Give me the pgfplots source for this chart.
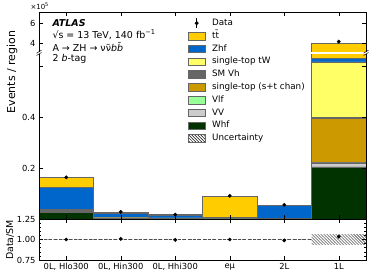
\documentclass[border=0pt]{standalone}
\usepackage{fontspec}
\setmainfont{DejaVu Sans}
\usepackage{pgfplots}
\pgfplotsset{compat=1.18}
\usepackage{pgfplotstable}
\usetikzlibrary{patterns}
\definecolor{ctt}{HTML}{FFCC00}
\definecolor{czhf}{HTML}{0066CC}
\definecolor{ctw}{HTML}{FFFF66}
\definecolor{csmvh}{HTML}{666666}
\definecolor{cst}{HTML}{CC9900}
\definecolor{cvlf}{HTML}{99FF99}
\definecolor{cvv}{HTML}{CCCCCC}
\definecolor{cwhf}{HTML}{003300}

% cumulative stack heights (x10^5 events), bottom-to-top order: whf, vv, vlf, st, smvh, tw, zhf, tt
\pgfplotstableread{
x tt zhf tw smvh st vlf vv whf
0 0.162 0.124 0.038 0.037 0.035 0.031 0.030 0.025
1 0.027 0.021 0.006 0.0055 0.005 0.0045 0.004 0.003
2 0.017 0.0157 0.0042 0.004 0.0036 0.0033 0.003 0.002
3 0.090 0.006 0.0057 0.0017 0.0016 0.0006 0.0005 0.0002
4 0.054 0.0527 0.0027 0.0025 0.002 0.0018 0.0015 0.0005
5 4.000 0.631 0.616 0.398 0.396 0.221 0.220 0.204
}\cumtable

\pgfplotstableread{
x y
0 0.163
1 0.028
2 0.0175
3 0.091
4 0.055
5 4.14
}\datatable

\pgfplotstableread{
x r
0 1.000
1 1.008
2 0.995
3 1.000
4 0.990
5 1.035
}\ratiotable

\pgfplotsset{
  base/.style={scale only axis, width=327bp, xmin=-0.5, xmax=5.5,
    xtick={0,1,2,3,4,5}, tick align=inside, axis on top,
    major tick length=4bp, minor tick length=2bp,
    tick style={black, line width=0.5pt}, axis line style={line width=0.6pt},
    tick label style={font=\fontsize{8.4}{10}\selectfont}},
  hbar/.style={ybar, bar width=1, bar shift=0pt, draw=black!60, line width=0.4pt},
  lbox/.style={legend image code/.code={\draw[fill=#1, draw=black!60, line width=0.4pt] (0bp,-3.8bp) rectangle (16.5bp,3.8bp);}},
}

\begin{document}
\begin{tikzpicture}
\path[use as bounding box] (0,0) rectangle (374bp,275bp);

% ratio panel
\begin{axis}[base, at={(39bp,15bp)}, anchor=south west, height=41bp,
  ymin=0.75, ymax=1.25, ytick={0.75,1,1.25}, yticklabels={0.75,1.00,1.25},
  minor y tick num=4,
  xticklabels={{0L, Hlo300},{0L, Hin300},{0L, Hhi300},eμ,2L,1L}]
  \addplot[draw=none, pattern=north west lines, pattern color=black!85] coordinates {(-0.5,0.995) (4.5,0.995) (4.5,1.005) (-0.5,1.005)};
  \addplot[draw=none, pattern=north west lines, pattern color=black!85] coordinates {(4.5,0.935) (5.5,0.935) (5.5,1.06) (4.5,1.06)};
  \addplot[black!70, densely dashed, line width=0.4pt] coordinates {(-0.5,1) (4.5,1)};
  \addplot[only marks, mark=*, mark size=1.7bp, black] table[x=x,y=r]{\ratiotable};
\end{axis}

\node[rotate=90, font=\fontsize{11}{13}\selectfont] at (12bp,203bp) {Events / region};
\node[rotate=90, font=\fontsize{9.5}{11}\selectfont] at (10bp,35bp) {Data/SM};
\node[anchor=west, font=\fontsize{7}{8}\selectfont] at (27bp,269bp) {×10\textsuperscript{5}};

% lower main segment
\begin{axis}[base, name=low, at={(39bp,56bp)}, anchor=south west, height=165bp,
  axis line style={draw=none}, xtick pos=left, xticklabels={},
  ymin=0, ymax=0.647, ytick={0.2,0.4,0.6}, yticklabels={0.2,0.4,{}}]
  \addplot[hbar, fill=ctt] table[x=x,y=tt]{\cumtable};
  \addplot[hbar, fill=czhf] table[x=x,y=zhf]{\cumtable};
  \addplot[hbar, fill=ctw] table[x=x,y=tw]{\cumtable};
  \addplot[hbar, fill=csmvh] table[x=x,y=smvh]{\cumtable};
  \addplot[hbar, fill=cst] table[x=x,y=st]{\cumtable};
  \addplot[hbar, fill=cvlf] table[x=x,y=vlf]{\cumtable};
  \addplot[hbar, fill=cvv] table[x=x,y=vv]{\cumtable};
  \addplot[hbar, fill=cwhf] table[x=x,y=whf]{\cumtable};
  \addplot[only marks, mark=*, mark size=1.7bp, black] table[x=x,y=y]{\datatable};
\end{axis}
\draw[line width=0.6pt] (low.north west) -- (low.south west) -- (low.south east) -- (low.north east);

% white gap between the two segments of the broken axis
\fill[white] (28bp,220.7bp) rectangle (374bp,224.6bp);

% upper main segment
\begin{axis}[base, name=up, at={(39bp,223bp)}, anchor=south west, height=40bp,
  axis line style={draw=none}, xtick pos=right, xticklabels={},
  ymin=3.1, ymax=7.1, ytick={4,6}, yticklabels={4,6},
  legend cell align=left,
  legend style={at={(rel axis cs:0.4557,0.885)}, anchor=north west, draw=none, fill=none,
    font=\fontsize{8.8}{10}\selectfont, inner sep=0pt, row sep=0pt, column sep=6bp,
    nodes={inner ysep=1.95bp, inner xsep=1bp, text height=6.8bp, text depth=2.1bp}}]
  \addlegendimage{legend image code/.code={\draw[black, line width=0.6pt] (8.25bp,-5bp)--(8.25bp,5bp); \fill[black] (8.25bp,0bp) circle (1.8bp);}}
  \addlegendimage{lbox=ctt}
  \addlegendimage{lbox=czhf}
  \addlegendimage{lbox=ctw}
  \addlegendimage{lbox=csmvh}
  \addlegendimage{lbox=cst}
  \addlegendimage{lbox=cvlf}
  \addlegendimage{lbox=cvv}
  \addlegendimage{lbox=cwhf}
  \addlegendimage{legend image code/.code={\draw[pattern=north west lines, draw=black!60, line width=0.4pt] (0bp,-3.8bp) rectangle (16.5bp,3.8bp);}}
  \addplot[hbar, fill=ctt, restrict x to domain=4.5:5.5] table[x=x,y=tt]{\cumtable};
  \addplot[only marks, mark=*, mark size=1.7bp, black, restrict x to domain=4.5:5.5] table[x=x,y=y]{\datatable};
  \legend{Data, tt̄, Zhf, single-top tW, SM Vh, single-top (s+t chan), Vlf, VV, Whf, Uncertainty}
\end{axis}
\draw[line width=0.6pt] (up.south west) -- (up.north west) -- (up.north east) -- (up.south east);

% break marks
\draw[line width=0.5pt] (36.5bp,219.5bp)--(41.5bp,222.5bp);
\draw[line width=0.5pt] (36.5bp,221.8bp)--(41.5bp,224.8bp);
\draw[line width=0.5pt] (363.5bp,219.5bp)--(368.5bp,222.5bp);
\draw[line width=0.5pt] (363.5bp,221.8bp)--(368.5bp,224.8bp);

% labels
\node[anchor=west, font=\fontsize{9.5}{11}\selectfont\bfseries\itshape] at (49bp,252bp) {ATLAS};
\node[anchor=west, font=\fontsize{9.5}{11}\selectfont] at (49bp,240bp) {√s = 13 TeV, 140 fb\textsuperscript{−1}};
\node[anchor=west, font=\fontsize{9.5}{11}\selectfont] at (49bp,228bp) {A → ZH → νν̄\textit{bb̄}};
\node[anchor=west, font=\fontsize{9.5}{11}\selectfont] at (49bp,216bp) {2 \textit{b}-tag};
\end{tikzpicture}
\end{document}
